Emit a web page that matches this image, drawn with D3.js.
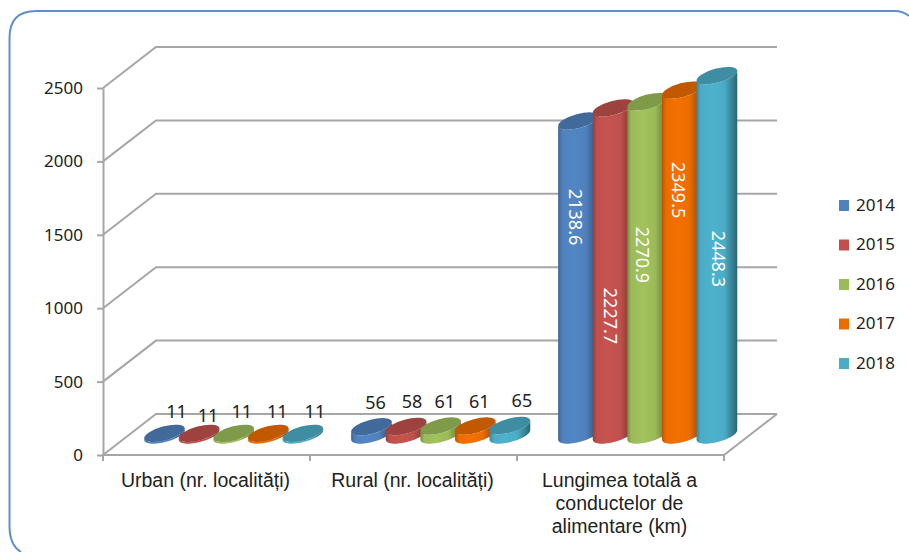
<!DOCTYPE html>
<html>
<head>
<meta charset="utf-8">
<script src="https://cdnjs.cloudflare.com/ajax/libs/d3/7.8.5/d3.min.js"></script>
<style>
html, body { margin: 0; padding: 0; background: #fff; overflow: hidden; }
text { font-family: "Noto Sans", sans-serif; fill: #222; }
</style>
</head>
<body>
<svg width="909" height="552"></svg>
<script>
var categories = ['Urban (nr. localități)', 'Rural (nr. localități)', 'Lungimea totală a|conductelor de|alimentare (km)'];
var years = ['2014', '2015', '2016', '2017', '2018'];
var urban = [11, 11, 11, 11, 11];
var rural = [56, 58, 61, 61, 65];
var lungime = [2138.6, 2227.7, 2270.9, 2349.5, 2448.3];
var yTicks = [0, 500, 1000, 1500, 2000, 2500];
var colors = ['#4f81bd', '#c0504d', '#9bbb59', '#ec6c00', '#4bacc6'];

var seriesByCat = [urban, rural, lungime];

// label placement
var labelDx = [[12, 9, 8, 9, 12], [4, 6, 4, 4, 12], [-3.5, -3, -5.5, -4, 1.5]];
var labelDy = [[0, 4, 0, 0, 0], [0, 0, 0, 0, 0]];
var insideAt = [0.306, 0.636, 0.46, 0.29, 0.51];

var svg = d3.select('svg');

// depth of the 3d box
var depthX = 53, depthY = -41;
var floorY = 455, topY = 88, leftX = 103, rightX = 724;

var y = d3.scaleLinear().domain([0, 2500]).range([floorY, topY]);
var x0 = d3.scaleBand().domain(d3.range(3)).range([leftX, rightX]);
var x1 = d3.scaleBand().domain(years).range([41, 214]).paddingInner(0);

var defs = svg.append('defs');
colors.forEach(function (c, i) {
    var g = defs.append('linearGradient').attr('id', 'bar' + i);
    g.append('stop').attr('offset', '0%').attr('stop-color', d3.color(c).darker(0.7));
    g.append('stop').attr('offset', '10%').attr('stop-color', c);
    g.append('stop').attr('offset', '38%').attr('stop-color', d3.color(c).brighter(0.1));
    g.append('stop').attr('offset', '68%').attr('stop-color', c);
    g.append('stop').attr('offset', '100%').attr('stop-color', d3.color(c).darker(1.5));
});

// frame
svg.append('path')
    .attr('d', 'M909,16Q903,11 895,11H36Q9.500,11 9.500,38V526Q9.500,545 21,552')
    .attr('fill', 'none').attr('stroke', '#5f8fca').attr('stroke-width', 2);

var axisCol = '#a6a6a6';

// back wall gridlines with their side wall part
yTicks.forEach(function (t) {
    svg.append('path')
        .attr('d', 'M' + leftX + ',' + y(t) + 'L' + (leftX + depthX) + ',' + (y(t) + depthY) + 'H' + (rightX + depthX))
        .attr('fill', 'none').attr('stroke', axisCol).attr('stroke-width', 2);
});

// floor
svg.append('path')
    .attr('d', 'M' + (leftX - 1) + ',' + floorY + 'H' + rightX + 'L' + (rightX + depthX) + ',' + (floorY + depthY))
    .attr('fill', 'none').attr('stroke', axisCol).attr('stroke-width', 2);

// y axis
var yAxis = d3.axisLeft(y).tickValues(yTicks).tickFormat(d3.format('d')).tickSize(6).tickSizeOuter(0);
var gy = svg.append('g').attr('transform', 'translate(' + leftX + ',0)').call(yAxis);
gy.select('.domain').attr('stroke', axisCol).attr('stroke-width', 2);
gy.selectAll('.tick line').attr('stroke', axisCol).attr('stroke-width', 2);
gy.selectAll('.tick text').attr('x', -20).attr('dy', '0.32em').style('font-family', '"Noto Sans", sans-serif').style('font-size', '17px').style('fill', '#222');

// x axis ticks
var xEdges = [0, 1, 2].map(function (i) { return x0(i); }).concat([rightX]);
svg.selectAll('.xtick').data(xEdges).enter().append('line')
    .attr('x1', function (d) { return d; }).attr('x2', function (d) { return d; })
    .attr('y1', floorY).attr('y2', floorY + 6)
    .attr('stroke', axisCol).attr('stroke-width', 2);

// category labels
categories.forEach(function (c, i) {
    var lines = c.split('|');
    var t = svg.append('text').attr('text-anchor', 'middle').attr('font-size', 19.5).style('font-family', '"Liberation Sans", sans-serif');
    lines.forEach(function (l, k) {
        t.append('tspan').attr('x', x0(i) + x0.bandwidth() / 2 - 1).attr('y', 487 + k * 23).text(l);
    });
});

// cylinders, left to right so that each one covers the one before
var barW = 41, base = 20;
var ra = 21, rb = 7, tilt = 15;
var th = tilt * Math.PI / 180;
var halfW = Math.sqrt(ra * ra * Math.cos(th) * Math.cos(th) + rb * rb * Math.sin(th) * Math.sin(th));
var sideDy = (ra * ra - rb * rb) * Math.sin(th) * Math.cos(th) / halfW;

function cylinderBody(cx, by, ty) {
    var lx = cx - halfW, rx = cx + halfW;
    return 'M' + lx + ',' + (ty + sideDy) +
        'L' + lx + ',' + (by + sideDy) +
        'A' + ra + ',' + rb + ',' + (-tilt) + ',0,0,' + rx + ',' + (by - sideDy) +
        'L' + rx + ',' + (ty - sideDy) +
        'A' + ra + ',' + rb + ',' + (-tilt) + ',0,1,' + lx + ',' + (ty + sideDy) + 'Z';
}

seriesByCat.forEach(function (vals, ci) {
    vals.forEach(function (v, si) {
        var g = svg.append('g');
        var left = x0(ci) + x1(years[si]);
        var cx = left + barW / 2;
        var h = floorY - y(v);
        var by = floorY - base, ty = by - h;
        g.append('path').attr('d', cylinderBody(cx, by, ty)).attr('fill', 'url(#bar' + si + ')');
        g.append('ellipse').attr('rx', ra).attr('ry', rb)
            .attr('transform', 'translate(' + cx + ',' + ty + ') rotate(' + (-tilt) + ')')
            .attr('fill', d3.color(colors[si]).darker(0.55));

        if (ci < 2) {
            g.append('text').attr('x', cx + labelDx[ci][si]).attr('y', ty - 15 + labelDy[ci][si] + (ci == 1 ? -3 : 0))
                .attr('text-anchor', 'middle').attr('font-size', 18).text(v);
        }
    });
});

// rotated labels go on top of all the cylinders
lungime.forEach(function (v, si) {
    var left = x0(2) + x1(years[si]);
    var cx = left + barW / 2 + labelDx[2][si];
    var ty = y(v) - base;
    var ly = ty + (floorY - y(v)) * insideAt[si];
    svg.append('text').attr('transform', 'translate(' + cx + ',' + ly + ') rotate(90)')
        .attr('text-anchor', 'middle').attr('dy', '0.35em').attr('font-size', 18)
        .style('fill', '#fff').text(v);
});

// legend
var ly = d3.scalePoint().domain(years).range([205, 363]);
years.forEach(function (yr, i) {
    svg.append('rect').attr('x', 839).attr('y', ly(yr) - 5).attr('width', 10).attr('height', 11).attr('fill', colors[i]);
    svg.append('text').attr('x', 856).attr('y', ly(yr)).attr('dy', '0.35em').attr('font-size', 17).text(yr);
});
</script>
</body>
</html>
